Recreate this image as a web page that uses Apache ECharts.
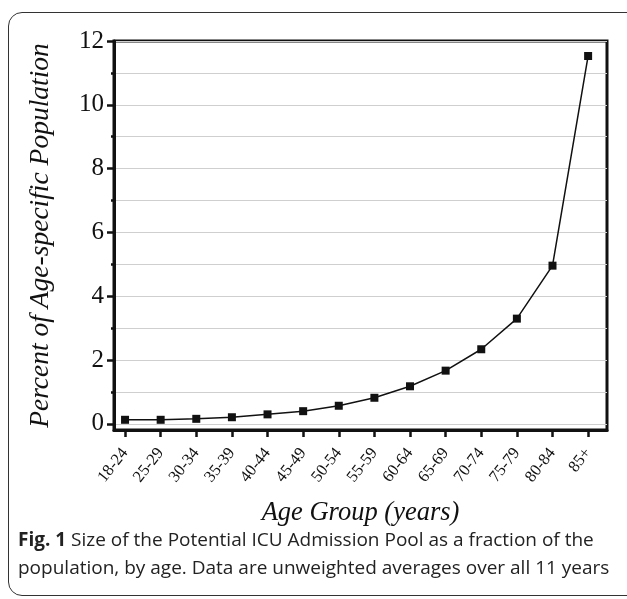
<!DOCTYPE html>
<html><head><meta charset="utf-8">
<script src="https://cdn.jsdelivr.net/npm/echarts@6/dist/echarts.min.js"></script>
<style>
html,body{margin:0;padding:0;background:#fff;overflow:hidden;width:627px;height:599px}
#frame{position:absolute;left:8px;top:12px;width:660px;height:584px;border:1.5px solid #333;border-radius:14px;box-sizing:border-box}
#c{position:absolute;left:0;top:0;width:627px;height:599px}
</style></head>
<body><div id="frame"></div><div id="c"></div>
<script>
const categories = ['18-24','25-29','30-34','35-39','40-44','45-49','50-54','55-59','60-64','65-69','70-74','75-79','80-84','85+'];
const values = [0.13, 0.13, 0.16, 0.21, 0.30, 0.40, 0.57, 0.82, 1.18, 1.67, 2.34, 3.30, 4.96, 11.53];
const yMajorTicks = [0, 2, 4, 6, 8, 10, 12];
const yMinorTicks = [1, 3, 5, 7, 9, 11];
const xTicks = categories.map((c, i) => i);

const serif = '"Liberation Serif","DejaVu Serif",serif';
const sans = '"Open Sans","Noto Sans",sans-serif';
const chart = echarts.init(document.getElementById('c'), null, {renderer: 'canvas'});
chart.setOption({
  animation: false,
  backgroundColor: 'transparent',
  title: {
    left: 13, top: 522,
    text: '{b|Fig. 1} Size of the Potential ICU Admission Pool as a fraction of the\npopulation, by age. Data are unweighted averages over all 11 years',
    textStyle: {
      fontFamily: sans, fontSize: 19, fontWeight: 'normal',
      color: '#222', lineHeight: 28,
      rich: { b: { fontWeight: 'bold', fontSize: 19, fontFamily: sans, color: '#222', lineHeight: 28 } }
    }
  },
  grid: { left: 114, right: 20, top: 41, bottom: 169, show: true, borderColor: '#111', borderWidth: 3, containLabel: false },
  xAxis: {
    type: 'value', min: -0.31, max: 13.53,
    name: 'Age Group (years)', nameLocation: 'middle', nameGap: 70, nameMoveOverlap: false,
    nameTextStyle: { fontFamily: serif, fontStyle: 'italic', fontSize: 26.5, color: '#111' },
    axisLine: { show: true, onZero: false, lineStyle: { color: '#111', width: 3 } },
    axisTick: { show: true, customValues: xTicks, length: 7, lineStyle: { color: '#111', width: 2.5 } },
    axisLabel: { customValues: xTicks, rotate: 52, margin: 20, fontFamily: serif, fontSize: 16.5, color: '#111',
      formatter: v => categories[Math.round(v)] },
    splitLine: { show: false }
  },
  yAxis: [{
    type: 'value', min: -0.19, max: 12,
    name: 'Percent of Age-specific Population', nameLocation: 'middle', nameGap: 60, nameMoveOverlap: false,
    nameTextStyle: { fontFamily: serif, fontStyle: 'italic', fontSize: 27.5, color: '#111' },
    axisLine: { show: true, onZero: false, lineStyle: { color: '#111', width: 3 } },
    axisTick: { show: true, customValues: yMajorTicks, length: 7, lineStyle: { color: '#111', width: 2.5 } },
    axisLabel: { customValues: yMajorTicks, margin: 10, fontFamily: serif, fontSize: 25, color: '#111' },
    splitLine: { show: true, lineStyle: { color: '#cfcfcf', width: 1.2 } }
  }, {
    type: 'value', min: -0.19, max: 12, position: 'left',
    axisLine: { show: false, onZero: false },
    axisTick: { show: true, customValues: yMinorTicks, length: 3, lineStyle: { color: '#111', width: 2.5 } },
    axisLabel: { show: false, customValues: yMinorTicks },
    splitLine: { show: true, lineStyle: { color: '#cfcfcf', width: 1.2 } }
  }],
  series: [{
    type: 'line',
    data: values.map((v, i) => [i, v]),
    symbol: 'rect', symbolSize: 8, showSymbol: true,
    lineStyle: { color: '#111', width: 1.5 },
    itemStyle: { color: '#111' },
    z: 5
  }]
});
</script>
</body></html>
